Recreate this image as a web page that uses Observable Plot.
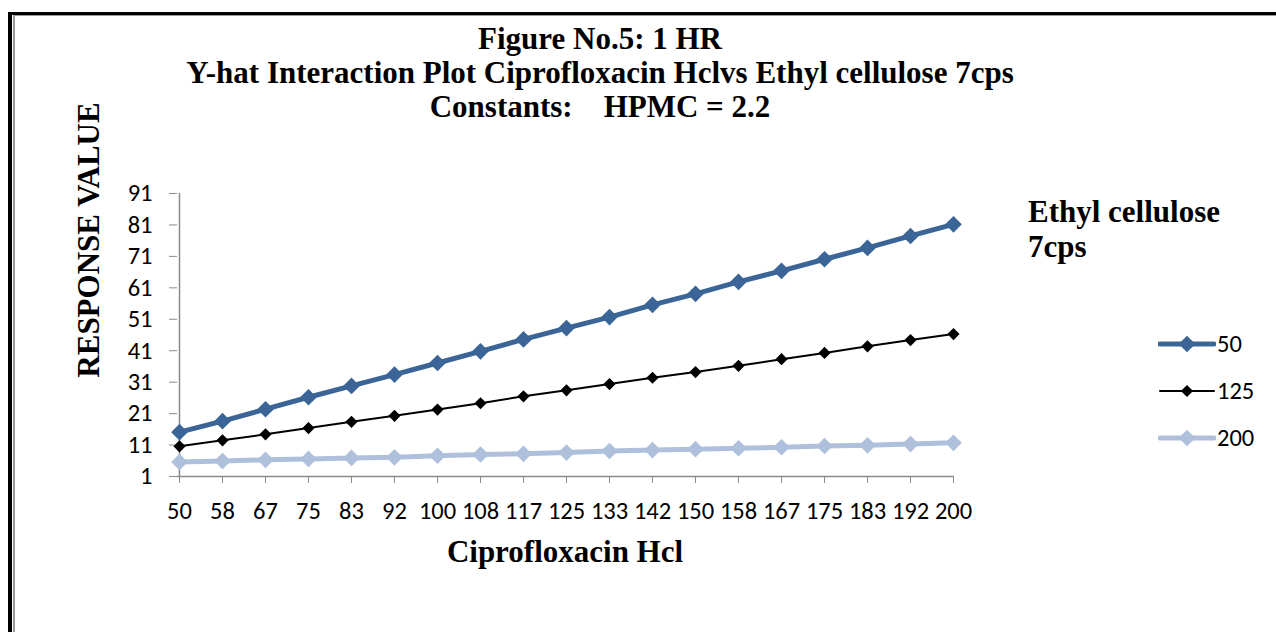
<!DOCTYPE html>
<html><head><meta charset="utf-8">
<script src="https://cdn.jsdelivr.net/npm/d3@7"></script>
<script src="https://cdn.jsdelivr.net/npm/@observablehq/plot@0.6"></script>
<style>
html,body{margin:0;padding:0;background:#fff}
body{width:1276px;height:632px;overflow:hidden;position:relative;font-family:"Liberation Serif","Times New Roman",serif}
#chart{position:absolute;left:0;top:0}
#chart svg text{font-family:Calibri,Carlito,"Liberation Sans",sans-serif !important;font-size:24.5px !important;fill:#000}
.frameA{position:absolute;left:8px;top:12px;width:3000px;height:3000px;border-left:4px solid #000;border-top:3px solid #000}
.frameB{position:absolute;left:13px;top:15px;width:3000px;height:3000px;border-left:2px solid #999;border-top:1px solid #999}
.t{position:absolute;font-weight:bold;font-size:31px;white-space:nowrap;color:#000;line-height:1}
.title{left:0;width:1200px;text-align:center}
.leg{position:absolute;left:1158px;font-family:Calibri,Carlito,"Liberation Sans",sans-serif;font-size:24.5px;white-space:nowrap;display:flex;align-items:center;height:24px}
.leg svg{margin-right:1px}
</style></head><body>
<div class="frameA"></div><div class="frameB"></div>
<div id="chart"></div>
<div class="t title" style="top:23px">Figure No.5: 1 HR</div>
<div class="t title" style="top:57px">Y-hat Interaction Plot Ciprofloxacin Hclvs Ethyl cellulose 7cps</div>
<div class="t title" style="top:91px">Constants:&nbsp;&nbsp;&nbsp; HPMC = 2.2</div>
<div class="t" style="left:88px;top:240px;transform:translate(-50%,-50%) rotate(-90deg)">RESPONSE VALUE</div>
<div class="t" style="left:565px;top:536px;transform:translateX(-50%)">Ciprofloxacin Hcl</div>
<div class="t" style="left:1028px;top:194px;line-height:35px">Ethyl cellulose<br>7cps</div>
<div id="legend"></div>
<script>
const categories = ["50","58","67","75","83","92","100","108","117","125","133","142","150","158","167","175","183","192","200"];
const series50  = [15.1,18.6,22.4,26.2,29.8,33.4,37.1,40.8,44.6,48.2,51.7,55.6,59.1,62.9,66.4,70.1,73.7,77.5,81.2];
const series125 = [10.6,12.5,14.4,16.4,18.4,20.3,22.3,24.3,26.5,28.4,30.4,32.4,34.2,36.2,38.3,40.3,42.4,44.4,46.3];
const series200 = [5.6,5.9,6.3,6.6,6.9,7.1,7.6,8.0,8.2,8.6,9.1,9.4,9.7,10.0,10.3,10.7,10.9,11.3,11.7];
const seriesNames = ["50","125","200"];
const seriesColors = ["#3B6597","#000000","#AFC0DC"];
const seriesWidths = [5,2,5];
const seriesR = [7.5,5.5,7.5];
const yTicks = [1,11,21,31,41,51,61,71,81,91];

const allSeries = [series50, series125, series200];
const data = allSeries.flatMap((vals, si) => vals.map((v, i) => ({x: categories[i], y: v, s: seriesNames[si]})));

const marks = [
  Plot.ruleX([categories[0]], {y1: yTicks[0], y2: yTicks[yTicks.length-1], stroke: "#8a8a8a", strokeWidth: 1.5}),
  Plot.ruleY([yTicks[0]], {stroke: "#8a8a8a", strokeWidth: 1.5}),
  Plot.axisX({tickSize: 7, tickPadding: 18, stroke: "#8a8a8a", fill: "#000", fontSize: 24.5, label: null}),
  Plot.axisY({ticks: yTicks, tickSize: 8, tickPadding: 17, stroke: "#8a8a8a", fill: "#000", fontSize: 24.5, label: null})
];
seriesNames.forEach((name, si) => {
  const d = data.filter(r => r.s === name);
  marks.push(Plot.line(d, {x: "x", y: "y", stroke: seriesColors[si], strokeWidth: seriesWidths[si]}));
  marks.push(Plot.dot(d, {x: "x", y: "y", symbol: "diamond2", r: seriesR[si], fill: seriesColors[si], stroke: "none"}));
});

const chart = Plot.plot({
  width: 1276, height: 632,
  marginLeft: 177, marginRight: 322, marginTop: 193, marginBottom: 156,
  x: {type: "point", domain: categories, padding: 0},
  y: {domain: [yTicks[0], yTicks[yTicks.length-1]]},
  style: {fontFamily: 'Calibri, Carlito, "Liberation Sans", sans-serif', fontSize: "24.5px", background: "transparent", color: "#000"},
  marks
});
document.getElementById("chart").appendChild(chart);

const legendTops = [332, 379, 426];
const leg = document.getElementById("legend");
seriesNames.forEach((name, si) => {
  const div = document.createElement("div");
  div.className = "leg";
  div.style.top = legendTops[si] + "px";
  const r = seriesR[si] * 1.11;
  div.innerHTML = `<svg width="58" height="24"><line x1="2" x2="56" y1="12" y2="12" stroke="${seriesColors[si]}" stroke-width="${seriesWidths[si]}" stroke-linecap="round"/><polygon points="29,${12-r} ${29+r},12 29,${12+r} ${29-r},12" fill="${seriesColors[si]}"/></svg><span>${name}</span>`;
  leg.appendChild(div);
});
</script>
</body></html>
